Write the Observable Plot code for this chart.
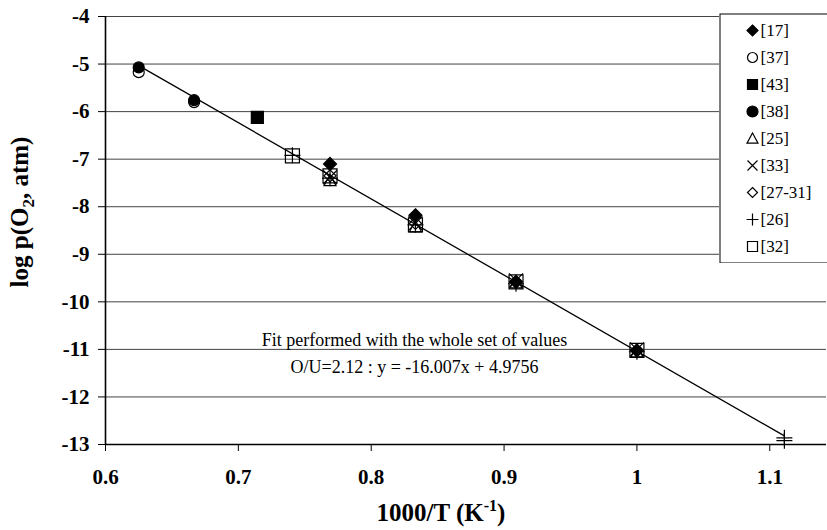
<!DOCTYPE html>
<html><head><meta charset="utf-8">
<script src="https://cdn.jsdelivr.net/npm/d3@7"></script>
<script src="https://cdn.jsdelivr.net/npm/@observablehq/plot@0.6"></script>
<style>
body{margin:0;background:#fff;}
#chart{position:relative;width:827px;height:530px;overflow:hidden;background:#fff;}
#chart svg, #chart svg text{font-family:"Liberation Serif","Times New Roman",serif !important;}
#legend{position:absolute;left:719px;top:13px;}
</style></head><body><div id="chart"></div>
<script>
// ---- data ----
const seriesNames = ["[17]","[37]","[43]","[38]","[25]","[33]","[27-31]","[26]","[32]"];
const source = [
  "[17]","[17]","[17]","[17]",
  "[37]","[37]",
  "[43]",
  "[38]","[38]",
  "[25]","[25]","[25]","[25]",
  "[33]","[33]","[33]","[33]",
  "[27-31]","[27-31]","[27-31]","[27-31]",
  "[26]","[26]","[26]","[26]","[26]","[26]","[26]",
  "[32]","[32]","[32]","[32]","[32]"
];
const invT = [
  0.769,0.8333,0.909,1.0,
  0.625,0.6667,
  0.7143,
  0.625,0.6667,
  0.769,0.8333,0.909,1.0,
  0.769,0.8333,0.909,1.0,
  0.769,0.8333,0.909,1.0,
  0.7407,0.769,0.8333,0.909,1.0,1.111,1.111,
  0.7407,0.769,0.8333,0.909,1.0
];
const logpO2 = [
  -7.10,-8.18,-9.58,-11.02,
  -5.17,-5.80,
  -6.12,
  -5.07,-5.76,
  -7.45,-8.42,-9.60,-11.05,
  -7.38,-8.35,-9.55,-11.00,
  -7.35,-8.35,-9.58,-11.03,
  -6.92,-7.40,-8.38,-9.62,-11.05,-12.86,-12.92,
  -6.93,-7.35,-8.38,-9.58,-11.02
];
const xTicks = [0.6,0.7,0.8,0.9,1,1.1];
const yTicks = [-13,-12,-11,-10,-9,-8,-7,-6,-5,-4];
const annotationLines = ["Fit performed with the whole set of values","O/U=2.12 : y = -16.007x + 4.9756"];
const xTitle = ["1000/T (K","-1",")"];
const yTitle = ["log p(O","2",", atm)"];

// ---- symbols ----
const symDiamond = {draw(c,s){const h=Math.sqrt(s/Math.PI);c.moveTo(0,-h);c.lineTo(h,0);c.lineTo(0,h);c.lineTo(-h,0);c.closePath();}};
const symSquare = {draw(c,s){const h=Math.sqrt(s/Math.PI);c.rect(-h,-h,2*h,2*h);}};
const symCircle = {draw(c,s){const h=Math.sqrt(s/Math.PI);c.moveTo(h,0);c.arc(0,0,h,0,2*Math.PI);}};
const symTriangle = {draw(c,s){const h=Math.sqrt(s/Math.PI);c.moveTo(0,-h);c.lineTo(h,h*0.85);c.lineTo(-h,h*0.85);c.closePath();}};
const symTimes = {draw(c,s){const h=Math.sqrt(s/Math.PI);c.moveTo(-h,-h);c.lineTo(h,h);c.moveTo(h,-h);c.lineTo(-h,h);}};
const symPlus = {draw(c,s){const h=Math.sqrt(s/Math.PI);c.moveTo(-h,0);c.lineTo(h,0);c.moveTo(0,-h);c.lineTo(0,h);}};

const style = {
  "[17]":   {symbol:symDiamond, fill:"black", r:6.5, lr:5.5},
  "[37]":   {symbol:symCircle, fill:"none", r:5.5, lr:5},
  "[43]":   {symbol:symSquare, fill:"black", r:6, lr:5},
  "[38]":   {symbol:symCircle, fill:"black", r:5.5, lr:5.5},
  "[25]":   {symbol:symTriangle, fill:"none", r:6, lr:5.5},
  "[33]":   {symbol:symTimes, fill:"none", r:7, lr:5},
  "[27-31]":{symbol:symDiamond, fill:"none", r:6, lr:5},
  "[26]":   {symbol:symPlus, fill:"none", r:8, lr:6},
  "[32]":   {symbol:symSquare, fill:"none", r:7, lr:5}
};

const rows = invT.map((x,i)=>({src:source[i], x, y:logpO2[i]}));
const font = '"Liberation Serif","Times New Roman",serif';

const plot = Plot.plot({
  width:827, height:530,
  marginLeft:105, marginTop:16, marginRight:1, marginBottom:86,
  style:{fontFamily:font, fontSize:"21px", fontWeight:"bold", background:"white", color:"black"},
  x:{domain:[0.6,1.1427]},
  y:{domain:[-13,-4]},
  marks:[
    Plot.gridY(yTicks,{stroke:"#444", strokeOpacity:1, strokeWidth:1}),
    Plot.ruleY([yTicks[0]],{stroke:"black", strokeWidth:1.6}),
    Plot.ruleX([xTicks[0]],{stroke:"black", strokeWidth:1.6}),
    Plot.axisX(xTicks,{tickSize:7, tickPadding:18, label:null, tickFormat:d=>String(d), fontFamily:font}),
    Plot.axisY(yTicks,{tickSize:7, tickPadding:9, label:null, tickFormat:d=>String(d), fontFamily:font}),
    ...seriesNames.map(s=>Plot.dot(rows.filter(d=>d.src===s),{
      x:"x", y:"y", symbol:style[s].symbol, r:style[s].r,
      fill:style[s].fill, stroke:"black", strokeWidth:1.2
    })),
    Plot.linearRegressionY(rows,{x:"x", y:"y", ci:0, stroke:"black", strokeWidth:1.3}),
    Plot.text([annotationLines.join("\n")],{
      frameAnchor:"top-left", dx:309, dy:334.5, textAnchor:"middle", lineAnchor:"middle",
      lineHeight:1.5, fontSize:18, fontWeight:"normal", fontFamily:font
    })
  ]
});

const svg = d3.select(plot);
const xt = svg.append("text").attr("x",441).attr("y",521).attr("text-anchor","middle")
  .attr("font-family",font).attr("font-size",25).attr("font-weight","bold").attr("fill","black");
xt.append("tspan").text(xTitle[0]);
xt.append("tspan").attr("dy",-10).attr("font-size",16).text(xTitle[1]);
xt.append("tspan").attr("dy",10).text(xTitle[2]);

const yt = svg.append("text").attr("transform","translate(28,212) rotate(-90)").attr("text-anchor","middle")
  .attr("font-family",font).attr("font-size",25).attr("font-weight","bold").attr("fill","black");
yt.append("tspan").text(yTitle[0]);
yt.append("tspan").attr("dy",6).attr("font-size",17).text(yTitle[1]);
yt.append("tspan").attr("dy",-6).text(yTitle[2]);

const legend = Plot.plot({
  width:110, height:250, margin:0,
  style:{fontFamily:font, background:"white", color:"black"},
  y:{type:"point", domain:seriesNames, padding:0.53, axis:null},
  marks:[
    Plot.frame({stroke:"black", fill:"white", inset:0.5}),
    ...seriesNames.map(s=>Plot.dot([s],{
      y:d=>d, frameAnchor:"left", dx:33, symbol:style[s].symbol, r:style[s].lr,
      fill:style[s].fill, stroke:"black", strokeWidth:1.2
    })),
    Plot.text(seriesNames,{y:d=>d, text:d=>d, frameAnchor:"left", dx:41, textAnchor:"start", fontSize:17, fontFamily:font})
  ]
});
legend.id = "legend";

const chart = document.getElementById("chart");
chart.appendChild(plot);
chart.appendChild(legend);
</script></body></html>
